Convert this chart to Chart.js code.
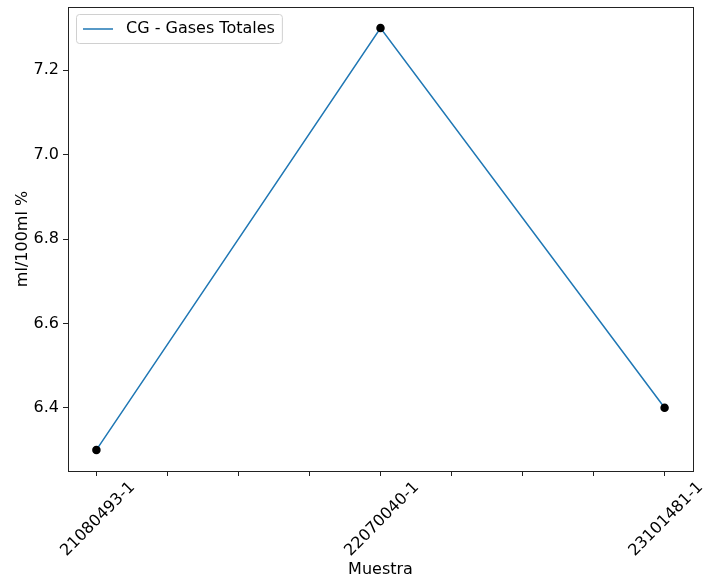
<!DOCTYPE html>
<html>
<head>
<meta charset="utf-8">
<script src="https://cdn.jsdelivr.net/npm/chart.js@4"></script>
<style>
  html, body { margin: 0; padding: 0; background: #fff; }
  #wrap { width: 717px; height: 582px; }
</style>
</head>
<body>
<div id="wrap"><canvas id="grafico" width="717" height="582"></canvas></div>
<script>
// datos
const muestras = ['21080493-1', '22070040-1', '23101481-1'];
const gasesTotales = [6.3, 7.3, 6.4];
const ticksY = [6.4, 6.6, 6.8, 7.0, 7.2];
const ticksX = [0, 0.25, 0.5, 0.75, 1, 1.25, 1.5, 1.75, 2];

const FUENTE = "'DejaVu Sans', sans-serif";
const TAM = 16;

// marco del área de trazado + leyenda estilo matplotlib (arriba a la izquierda, dentro)
const marcoPlugin = {
  id: 'marco',
  afterDraw(chart) {
    const { ctx, chartArea: a } = chart;
    ctx.save();
    ctx.strokeStyle = '#222';
    ctx.lineWidth = 1;
    ctx.strokeRect(Math.round(a.left) + 0.5, Math.round(a.top) + 0.5, Math.round(a.right - a.left), Math.round(a.bottom - a.top));

    const ds = chart.data.datasets[0];
    ctx.font = `${TAM}px ${FUENTE}`;
    const tw = ctx.measureText(ds.label).width;
    const bx = a.left + 8, by = a.top + 7, bw = tw + 57, bh = 29;
    ctx.fillStyle = 'rgba(255,255,255,0.8)';
    ctx.strokeStyle = '#d0d0d0';
    ctx.beginPath();
    ctx.roundRect(bx + 0.5, by + 0.5, bw, bh, 3);
    ctx.fill();
    ctx.stroke();
    const cy = by + bh / 2 + 0.5;
    ctx.strokeStyle = ds.borderColor;
    ctx.lineWidth = 1.5;
    ctx.beginPath();
    ctx.moveTo(bx + 7, cy);
    ctx.lineTo(bx + 37, cy);
    ctx.stroke();
    ctx.fillStyle = '#000';
    ctx.textBaseline = 'middle';
    ctx.fillText(ds.label, bx + 50, cy);
    ctx.restore();
  }
};

new Chart(document.getElementById('grafico').getContext('2d'), {
  type: 'line',
  data: {
    datasets: [{
      label: 'CG - Gases Totales',
      data: gasesTotales.map((v, i) => ({ x: i, y: v })),
      borderColor: '#1f77b4',
      borderWidth: 1.5,
      pointBackgroundColor: '#000',
      pointBorderColor: '#000',
      pointRadius: 3.5,
      tension: 0
    }]
  },
  options: {
    responsive: false,
    animation: false,
    layout: { padding: { top: 7, right: 24, left: 0, bottom: 0 } },
    plugins: {
      tooltip: { enabled: false },
      legend: { display: false }
    },
    scales: {
      x: {
        type: 'linear',
        min: -0.1,
        max: 2.1,
        afterBuildTicks(axis) { axis.ticks = ticksX.map(v => ({ value: v })); },
        afterFit(axis) { axis.height = 111; axis.paddingLeft = 0; axis.paddingRight = 0; },
        grid: { drawOnChartArea: false, drawTicks: true, tickLength: 5, color: '#222' },
        border: { display: false },
        ticks: {
          color: '#000',
          font: { family: FUENTE, size: TAM },
          minRotation: 45,
          maxRotation: 45,
          autoSkip: false,
          labelOffset: 36,
          padding: 2,
          callback: v => Number.isInteger(v) ? muestras[v] : ''
        },
        title: {
          display: true,
          text: 'Muestra',
          color: '#000',
          font: { family: FUENTE, size: TAM },
          padding: { top: 0, bottom: 3 }
        }
      },
      y: {
        min: 6.25,
        max: 7.35,
        afterBuildTicks(axis) { axis.ticks = ticksY.map(v => ({ value: v })); },
        afterFit(axis) { axis.width = 68; axis.paddingTop = 0; axis.paddingBottom = 0; },
        grid: { drawOnChartArea: false, drawTicks: true, tickLength: 5, color: '#222' },
        border: { display: false },
        ticks: {
          color: '#000',
          font: { family: FUENTE, size: TAM },
          padding: 4,
          callback: v => v.toFixed(1)
        },
        title: {
          display: true,
          text: 'ml/100ml %',
          color: '#000',
          font: { family: FUENTE, size: TAM },
          padding: { top: 13, bottom: 0 }
        }
      }
    }
  },
  plugins: [marcoPlugin]
});
</script>
</body>
</html>
